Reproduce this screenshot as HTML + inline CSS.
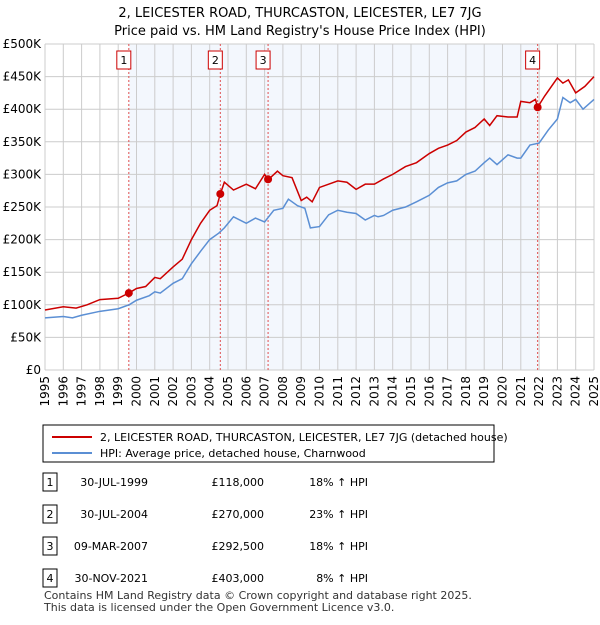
<!DOCTYPE html>
<html><head><meta charset="utf-8"><style>
body{margin:0;background:#fff;font-family:"Liberation Sans","DejaVu Sans",sans-serif;}
svg text{font-family:"DejaVu Sans","Liberation Sans",sans-serif;}
</style></head><body>
<svg id="c" width="600" height="620" xmlns="http://www.w3.org/2000/svg">
<text x="300" y="17" text-anchor="middle" font-size="13">2, LEICESTER ROAD, THURCASTON, LEICESTER, LE7 7JG</text>
<text x="300" y="35" text-anchor="middle" font-size="13">Price paid vs. HM Land Registry's House Price Index (HPI)</text>
<g id="grid"></g><g id="marks"></g>
<rect x="43" y="425" width="451" height="37" fill="#fff" stroke="#000"/>
<line x1="52" y1="437" x2="92" y2="437" stroke="#cc0000" stroke-width="2"/>
<text x="100" y="441" font-size="11">2, LEICESTER ROAD, THURCASTON, LEICESTER, LE7 7JG (detached house)</text>
<line x1="52" y1="453" x2="92" y2="453" stroke="#5b8fd4" stroke-width="2"/>
<text x="100" y="457" font-size="11">HPI: Average price, detached house, Charnwood</text>
<g id="table" font-size="11"></g>
<text x="44" y="599" font-size="11" fill="#333">Contains HM Land Registry data © Crown copyright and database right 2025.</text>
<text x="44" y="611" font-size="11" fill="#333">This data is licensed under the Open Government Licence v3.0.</text>
</svg>
<script>
const yTicks=[0,50,100,150,200,250,300,350,400,450,500];
const yTickLabels=["£0","£50K","£100K","£150K","£200K","£250K","£300K","£350K","£400K","£450K","£500K"];
const years=[1995,1996,1997,1998,1999,2000,2001,2002,2003,2004,2005,2006,2007,2008,2009,2010,2011,2012,2013,2014,2015,2016,2017,2018,2019,2020,2021,2022,2023,2024,2025];
const hpiT=[1995,1996,1996.5,1997,1998,1999,1999.6,2000,2000.7,2001,2001.3,2002,2002.5,2003,2003.5,2004,2004.5,2004.8,2005.3,2006,2006.5,2007,2007.5,2008,2008.3,2008.8,2009.2,2009.5,2010,2010.5,2011,2011.5,2012,2012.5,2013,2013.2,2013.5,2014,2014.7,2015.3,2016,2016.5,2017,2017.5,2018,2018.5,2019,2019.3,2019.7,2020.3,2020.8,2021,2021.5,2022,2022.5,2023,2023.3,2023.7,2024,2024.4,2025];
const hpiV=[80,82,80,84,90,94,100,107,114,120,118,133,140,163,182,200,210,218,235,225,233,227,245,248,262,252,248,218,220,238,245,242,240,230,237,235,237,245,250,258,268,280,287,290,300,305,318,325,315,330,325,325,345,348,368,385,418,410,415,400,415];
const priceT=[1995,1996,1996.7,1997.3,1998,1999,1999.58,2000,2000.5,2001,2001.3,2002,2002.5,2003,2003.5,2004,2004.4,2004.58,2004.8,2005.3,2006,2006.5,2007,2007.2,2007.7,2008,2008.5,2009,2009.3,2009.6,2010,2010.5,2011,2011.5,2012,2012.5,2013,2013.5,2014,2014.7,2015.3,2016,2016.5,2017,2017.5,2018,2018.5,2019,2019.3,2019.7,2020.3,2020.8,2021,2021.5,2021.8,2021.92,2022.3,2023,2023.3,2023.6,2024,2024.5,2025];
const priceV=[92,97,95,100,108,110,118,125,128,142,140,158,170,200,225,245,252,270,288,276,285,278,300,292,305,298,295,260,265,258,280,285,290,288,277,285,285,293,300,312,318,332,340,345,352,365,372,385,375,390,388,388,412,410,415,403,420,448,440,445,425,435,450];
const saleT=[1999.58,2004.58,2007.19,2021.92];
const saleV=[118,270,292.5,403];
const saleLabels=["1","2","3","4"];
const saleDates=["30-JUL-1999","30-JUL-2004","09-MAR-2007","30-NOV-2021"];
const salePrices=["£118,000","£270,000","£292,500","£403,000"];
const saleHpi=["18% ↑ HPI","23% ↑ HPI","18% ↑ HPI","  8% ↑ HPI"];
const NS="http://www.w3.org/2000/svg";
const X0=45,X1=594,Y0=370,Y1=44;
const xs=t=>X0+(t-1995)/30*(X1-X0);
const ys=v=>Y0-v/500*(Y0-Y1);
function mk(p,tag,a){const e=document.createElementNS(NS,tag);for(const k in a)e.setAttribute(k,a[k]);p.appendChild(e);return e;}
const g=document.getElementById('grid'),m=document.getElementById('marks'),tb=document.getElementById('table');
let sh=mk(g,'rect',{x:xs(saleT[0]),y:Y1,width:xs(saleT[3])-xs(saleT[0]),height:Y0-Y1,fill:'#eef3fc',opacity:0.7});


years.forEach(y=>{const l=mk(g,'line',{x1:xs(y),x2:xs(y),y1:Y1,y2:Y0,stroke:'#ccc'});


const t=mk(g,'text',{x:0,y:0,'font-size':12,'text-anchor':'end',transform:`translate(${xs(y)+4},${Y0+6}) rotate(-90)`});t.textContent=y;

});
yTicks.forEach((v,i)=>{const l=mk(g,'line',{x1:X0,x2:X1,y1:ys(v),y2:ys(v),stroke:'#ccc'});


const t=mk(g,'text',{x:X0-4,y:ys(v)+4,'font-size':12,'text-anchor':'end'});t.textContent=yTickLabels[i];

});
saleT.forEach((t,i)=>{const l=mk(g,'line',{x1:xs(t),x2:xs(t),y1:Y1,y2:Y0,stroke:'#e05050','stroke-dasharray':'2,2'});


const r=mk(g,'rect',{x:xs(t)-12,y:51,width:14,height:18,fill:'#fff',stroke:'#c00'});


const tx=mk(g,'text',{x:xs(t)-5,y:64,'font-size':11,'text-anchor':'middle'});tx.textContent=saleLabels[i];

});
const hp=mk(m,'polyline',{points:hpiT.map((t,i)=>xs(t)+','+ys(hpiV[i])).join(' '),fill:'none',stroke:'#5b8fd4','stroke-width':1.5});


const pp=mk(m,'polyline',{points:priceT.map((t,i)=>xs(t)+','+ys(priceV[i])).join(' '),fill:'none',stroke:'#cc0000','stroke-width':1.5});


saleT.forEach((t,i)=>{const c=mk(m,'circle',{cx:xs(t),cy:ys(saleV[i]),r:4,fill:'#cc0000'});

});
const rowY=[482,514,546,578];
saleT.forEach((t,i)=>{const y=rowY[i];
const r=mk(tb,'rect',{x:43,y:y-9,width:14,height:18,fill:'#fff',stroke:'#000'});


const vals=[[50,saleLabels[i],'middle'],[148,saleDates[i],'end'],[264,salePrices[i],'end'],[368,saleHpi[i],'end']];
vals.forEach(v=>{const tx=mk(tb,'text',{x:v[0],y:y+4,'text-anchor':v[2],'xml:space':'preserve'});tx.textContent=v[1];

});});
</script>
</body></html>
